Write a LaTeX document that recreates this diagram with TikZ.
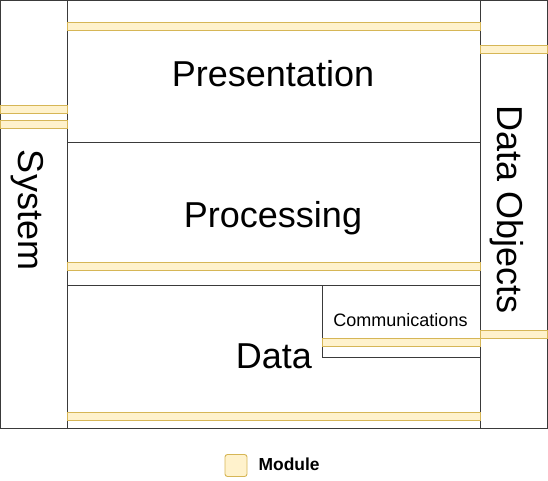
\documentclass[tikz,border=0pt]{standalone}
\usepackage{fontspec}
\setmainfont{Liberation Sans}
\definecolor{modfill}{HTML}{FFF2CC}
\definecolor{moddraw}{HTML}{D6B656}
\definecolor{edge}{HTML}{3A3A3A}
\begin{document}
\begin{tikzpicture}[x=1pt,y=-1pt,
  box/.style={draw=edge,line width=1pt,fill=none,anchor=north west,inner sep=0pt,outer sep=0pt},
  module/.style={draw=moddraw,fill=modfill,line width=0.9pt,anchor=north west,inner sep=0pt,outer sep=0pt},
  big/.style={font=\fontsize{36}{40}\selectfont,inner sep=0pt,anchor=base},
  small/.style={font=\fontsize{18}{21}\selectfont,inner sep=0pt,anchor=base}]
\useasboundingbox (0,0) rectangle (548,481);
% columns and layers
\node[box,minimum width=67pt,minimum height=428pt] (system) at (0.5,0.5) {};
\node[box,minimum width=67pt,minimum height=428pt] (objects) at (480.5,0.5) {};
\node[box,minimum width=413pt,minimum height=142.5pt] (pres) at (67.5,0.5) {};
\node[box,minimum width=413pt,minimum height=142pt] (proc) at (67.5,143) {};
\node[box,minimum width=413pt,minimum height=143.5pt] (data) at (67.5,285) {};
\node[box,minimum width=158pt,minimum height=72pt] (comm) at (322.5,285) {};
% modules
\node[module,minimum width=413pt,minimum height=8pt] (m1) at (67.5,22.5) {};
\node[module,minimum width=67pt,minimum height=8pt] (m2) at (480.5,45.5) {};
\node[module,minimum width=67pt,minimum height=8pt] (m3) at (0,105) {};
\node[module,minimum width=67pt,minimum height=8pt] (m4) at (0,120) {};
\node[module,minimum width=413pt,minimum height=8pt] (m5) at (67.5,262.5) {};
\node[module,minimum width=67pt,minimum height=8pt] (m6) at (480.5,330.5) {};
\node[module,minimum width=158pt,minimum height=8pt] (m7) at (322.5,338.5) {};
\node[module,minimum width=413pt,minimum height=8pt] (m8) at (67.5,412.5) {};
% labels
\node[big] (tpres) at (273,86.7) {Presentation};
\node[big] (tproc) at (273,227.5) {Processing};
\node[big] (tdata) at (274,368.3) {Data};
\node[big,rotate=-90] (tsys) at (18,210) {System};
\node[big,rotate=-90] (tobj) at (497.5,209.5) {Data Objects};
\node[small] (tcomm) at (400.5,326.7) {Communications};
% legend
\node[module,rounded corners=2.5pt,minimum width=22pt,minimum height=22pt] (leg) at (225,454.5) {};
\node[font=\fontsize{17.4}{20}\selectfont\bfseries,inner sep=0pt,anchor=base west] (tleg) at (258.5,470.7) {Module};
\end{tikzpicture}
\end{document}
